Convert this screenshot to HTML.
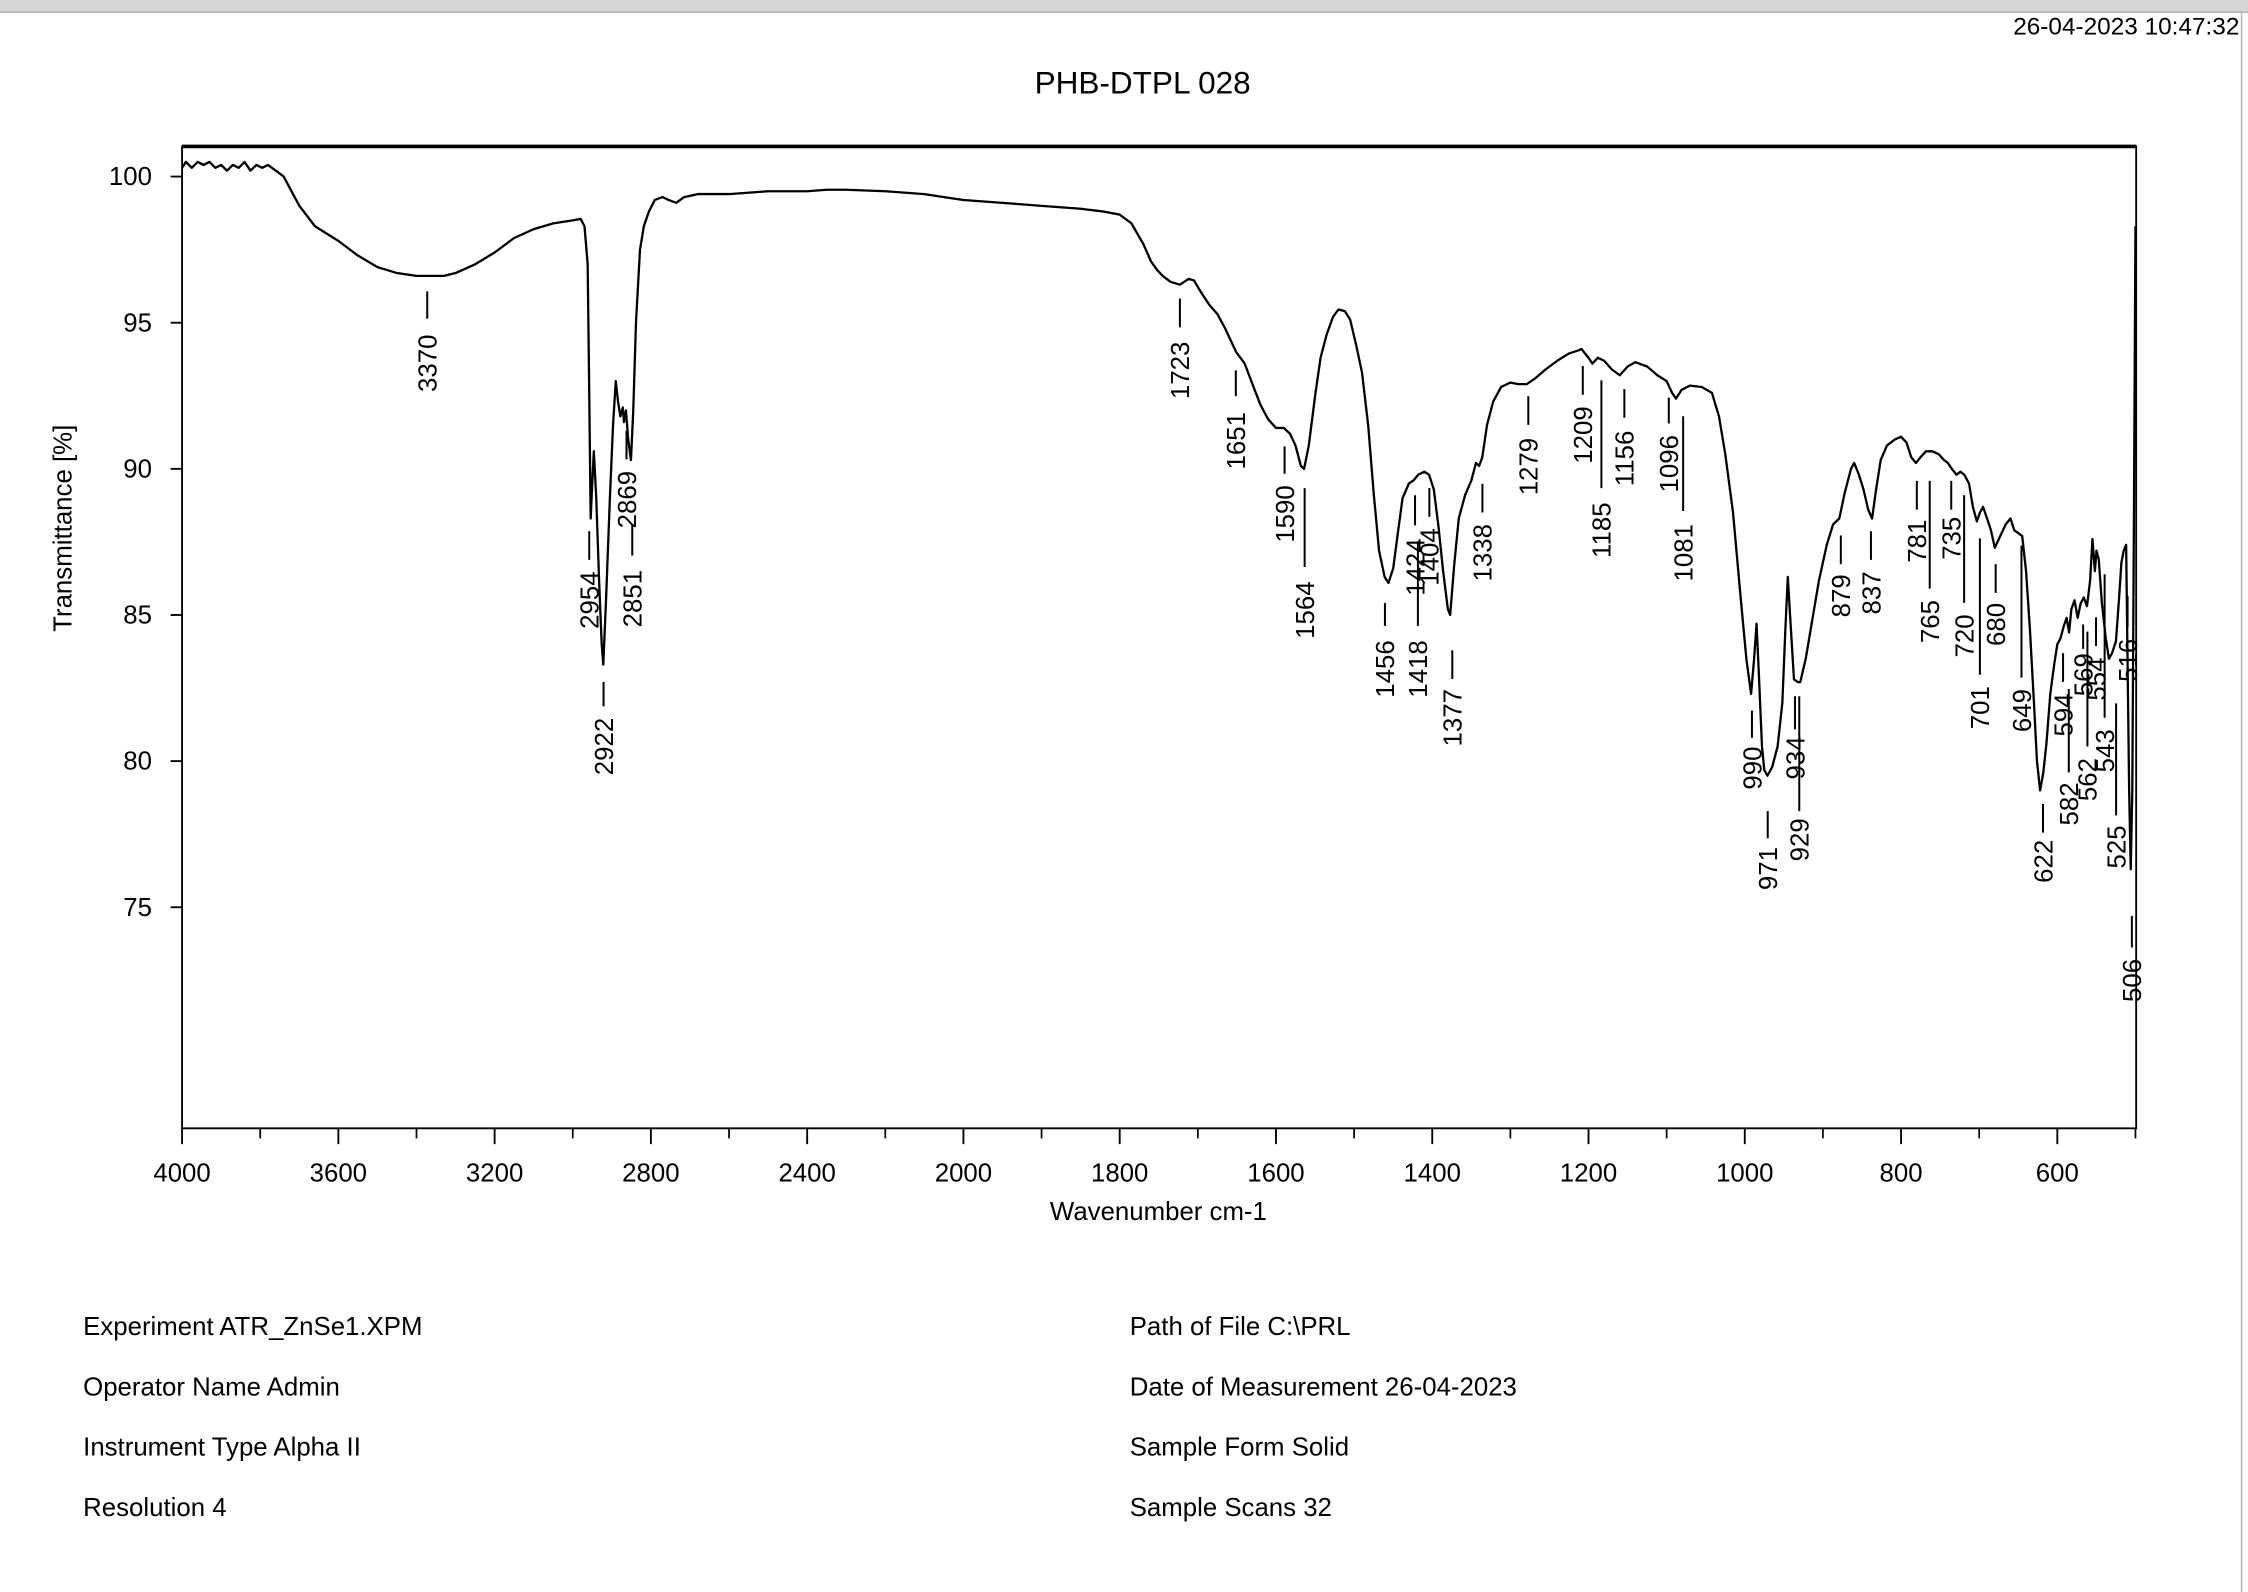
<!DOCTYPE html>
<html><head><meta charset="utf-8">
<style>
html,body{margin:0;padding:0;background:#fff;}
svg{display:block;}
text{font-family:"Liberation Sans",Arial,sans-serif;fill:#000;}
</style></head>
<body>
<svg id="s" width="2248" height="1592" viewBox="0 0 1568 1109" preserveAspectRatio="none" xmlns="http://www.w3.org/2000/svg">
<rect x="0" y="0" width="1568" height="1109" fill="#fff"/>
<rect x="0" y="0" width="1568" height="8" fill="#d6d6d6"/>
<line x1="0" y1="8.5" x2="1568" y2="8.5" stroke="#a8a8b0" stroke-width="1"/>
<line x1="1563.5" y1="8" x2="1563.5" y2="1109" stroke="#b0b0b0" stroke-width="1"/>
<text x="1562" y="24" font-size="17" text-anchor="end">26-04-2023  10:47:32</text>
<text x="797" y="65" font-size="22" text-anchor="middle">PHB-DTPL 028</text>
<rect x="127" y="102" width="1363" height="684" fill="none" stroke="#000" stroke-width="1.3"/>
<line x1="127" y1="102" x2="1490" y2="102" stroke="#000" stroke-width="2.5"/>
<g id="axes"></g>
<polyline id="spec" fill="none" stroke="#000" stroke-width="1.6" stroke-linejoin="round"/>
<g id="labels"></g>
<text x="808" y="850" font-size="18" text-anchor="middle">Wavenumber cm-1</text>
<text transform="translate(50,368) rotate(-90)" font-size="18" text-anchor="middle">Transmittance [%]</text>
<g font-size="18">
<text x="58" y="930">Experiment ATR_ZnSe1.XPM</text>
<text x="58" y="972">Operator Name Admin</text>
<text x="58" y="1014">Instrument Type Alpha II</text>
<text x="58" y="1056">Resolution 4</text>
<text x="788" y="930">Path of File C:\PRL</text>
<text x="788" y="972">Date of Measurement 26-04-2023</text>
<text x="788" y="1014">Sample Form Solid</text>
<text x="788" y="1056">Sample Scans 32</text>
</g>
</svg>
<script>
var NS="http://www.w3.org/2000/svg";
function X(w){return w>=2000?127+(4000-w)*0.2725:672+(2000-w)*0.545;}
function Y(t){return 123+(100-t)*20.36;}
function el(p,tag,a,txt){var e=document.createElementNS(NS,tag);for(var k in a)e.setAttribute(k,a[k]);if(txt!==undefined)e.textContent=txt;p.appendChild(e);return e;}
var ax=document.getElementById("axes");
[4000,3600,3200,2800,2400,2000,1800,1600,1400,1200,1000,800,600].forEach(function(w){
 var x=X(w);el(ax,"line",{x1:x,y1:786,x2:x,y2:797,stroke:"#000","stroke-width":1.3});
 el(ax,"text",{x:x,y:823,"font-size":18,"text-anchor":"middle"},String(w));});
[3800,3400,3000,2600,2200,1900,1700,1500,1300,1100,900,700,500].forEach(function(w){
 var x=X(w);el(ax,"line",{x1:x,y1:786,x2:x,y2:793,stroke:"#000","stroke-width":1.2});});
[100,95,90,85,80,75].forEach(function(t){var y=Y(t);
 el(ax,"line",{x1:119,y1:y,x2:127,y2:y,stroke:"#000","stroke-width":1.3});
 el(ax,"text",{x:106,y:y+6,"font-size":18,"text-anchor":"end"},String(t));});
var d=[[4000,100.3],[3990,100.5],[3975,100.3],[3960,100.5],[3945,100.4],[3930,100.5],[3915,100.3],[3900,100.4],[3885,100.2],[3870,100.4],[3855,100.3],[3840,100.5],[3825,100.2],[3810,100.4],[3795,100.3],[3780,100.4],[3760,100.2],[3740,100],[3720,99.5],[3700,99],[3660,98.3],[3600,97.8],[3550,97.3],[3500,96.9],[3450,96.7],[3400,96.6],[3370,96.6],[3330,96.6],[3300,96.7],[3250,97],[3200,97.4],[3150,97.9],[3100,98.2],[3050,98.4],[3000,98.5],[2980,98.55],[2970,98.3],[2962,97],[2958,93],[2954,88.3],[2950,89.5],[2946,90.6],[2940,89],[2932,86],[2926,84],[2922,83.3],[2915,85.5],[2905,89],[2897,91.5],[2890,93],[2884,92.3],[2878,91.8],[2872,92.1],[2869,91.6],[2864,92],[2858,91],[2851,90.3],[2845,92],[2838,95],[2828,97.5],[2818,98.3],[2805,98.8],[2790,99.2],[2770,99.3],[2755,99.2],[2735,99.1],[2715,99.3],[2680,99.4],[2600,99.4],[2500,99.5],[2400,99.5],[2350,99.55],[2300,99.55],[2200,99.5],[2100,99.4],[2050,99.3],[2000,99.2],[1950,99.1],[1900,99],[1850,98.9],[1820,98.8],[1800,98.7],[1785,98.4],[1770,97.7],[1760,97.1],[1752,96.8],[1745,96.6],[1735,96.4],[1723,96.3],[1712,96.5],[1705,96.45],[1695,96],[1685,95.6],[1675,95.3],[1665,94.8],[1658,94.4],[1651,94.0],[1640,93.6],[1630,92.9],[1620,92.2],[1610,91.7],[1600,91.4],[1590,91.4],[1582,91.2],[1575,90.8],[1568,90.1],[1564,90],[1558,90.8],[1550,92.5],[1543,93.8],[1535,94.6],[1527,95.2],[1520,95.45],[1512,95.4],[1505,95.1],[1497,94.2],[1490,93.3],[1482,91.5],[1475,89.2],[1468,87.2],[1461,86.3],[1456,86.1],[1450,86.6],[1444,87.8],[1438,89],[1430,89.5],[1424,89.6],[1418,89.8],[1410,89.9],[1404,89.8],[1398,89.3],[1392,88],[1386,86.5],[1380,85.2],[1377,85.0],[1372,86.7],[1366,88.3],[1358,89.1],[1350,89.6],[1344,90.2],[1340,90.1],[1336,90.4],[1330,91.5],[1322,92.3],[1312,92.8],[1300,92.95],[1290,92.9],[1279,92.9],[1268,93.1],[1255,93.4],[1240,93.7],[1225,93.95],[1213,94.05],[1209,94.1],[1200,93.8],[1195,93.6],[1188,93.8],[1180,93.7],[1170,93.4],[1160,93.2],[1150,93.5],[1140,93.65],[1125,93.5],[1112,93.2],[1100,93.0],[1093,92.6],[1088,92.4],[1081,92.7],[1070,92.85],[1055,92.8],[1042,92.6],[1033,91.8],[1025,90.5],[1015,88.5],[1005,85.5],[998,83.5],[992,82.3],[988,83.5],[985,84.7],[982,83],[978,80.5],[975,79.7],[971,79.5],[965,79.8],[958,80.5],[952,82],[948,84.5],[945,86.3],[941,84.5],[937,82.8],[932,82.7],[929,82.7],[922,83.5],[915,84.6],[905,86.2],[895,87.4],[887,88.1],[879,88.3],[872,89.2],[864,90],[860,90.2],[854,89.8],[848,89.3],[842,88.6],[837,88.3],[832,89.3],[826,90.3],[818,90.8],[808,91.0],[800,91.1],[793,90.9],[787,90.4],[781,90.2],[775,90.4],[768,90.6],[760,90.6],[752,90.5],[745,90.3],[740,90.2],[735,90.0],[729,89.8],[724,89.9],[719,89.8],[713,89.5],[708,88.7],[703,88.2],[699,88.5],[695,88.7],[690,88.3],[685,87.9],[680,87.3],[673,87.7],[666,88.1],[660,88.3],[655,87.9],[650,87.8],[645,87.7],[640,86.5],[635,84.5],[630,82],[626,80],[622,79.0],[618,79.6],[614,80.6],[609,82.3],[604,83.3],[600,84.0],[596,84.2],[592,84.6],[588,84.9],[585,84.4],[582,85.2],[578,85.5],[574,84.9],[570,85.4],[566,85.6],[562,85.3],[558,86.2],[555,87.6],[552,86.5],[550,87.2],[547,86.9],[543,85.4],[538,84.2],[534,83.5],[530,83.7],[525,84.1],[521,85.6],[518,86.8],[515,87.2],[512,87.4],[510,83],[508,79],[506,76.3],[504,79],[502,88],[500,98.3]];
document.getElementById("spec").setAttribute("points",d.map(function(p){return X(p[0]).toFixed(1)+","+Y(p[1]).toFixed(1);}).join(" "));
var L=[[3370,298,203,222,233],[2954,411,370,390,398],[2922,421,475,492,500],[2869,437,300,320,328],[2851,441,365,387,397],[1723,823,208,228,238],[1651,862,258,276,287],[1590,896,311,330,338],[1564,910,340,395,405],[1456,966,420,436,446],[1424,987,345,366,375],[1418,989,377,436,446],[1404,997,340,360,368],[1377,1013,453,473,480],[1338,1034,337,357,365],[1279,1066,276,296,305],[1209,1104,255,275,283],[1185,1117,265,340,350],[1156,1133,271,291,300],[1096,1164,277,295,303],[1081,1174,290,356,365],[990,1222,495,514,520],[971,1233,565,584,590],[934,1252,485,508,513],[929,1255,485,565,570],[879,1284,373,393,400],[837,1305,370,390,398],[781,1337,335,355,362],[765,1346,335,410,418],[735,1361,335,355,360],[720,1370,345,420,428],[701,1381,375,470,478],[680,1392,393,413,420],[649,1410,380,472,480],[622,1425,560,580,585],[594,1439,455,475,483],[582,1443,480,538,545],[569,1453,435,452,455],[562,1456,440,520,528],[554,1462,430,450,458],[543,1468,400,500,508],[525,1476,490,568,575],[516,1484,415,437,445],[506,1487,638,660,668]];
var g=document.getElementById("labels");
L.forEach(function(l){var x=l[1];
 el(g,"line",{x1:x,y1:l[2],x2:x,y2:l[3],stroke:"#000","stroke-width":1.4});
 el(g,"text",{transform:"translate("+(x+6.5)+","+l[4]+") rotate(-90)","font-size":18,"text-anchor":"end"},String(l[0]));});
</script>
</body></html>
